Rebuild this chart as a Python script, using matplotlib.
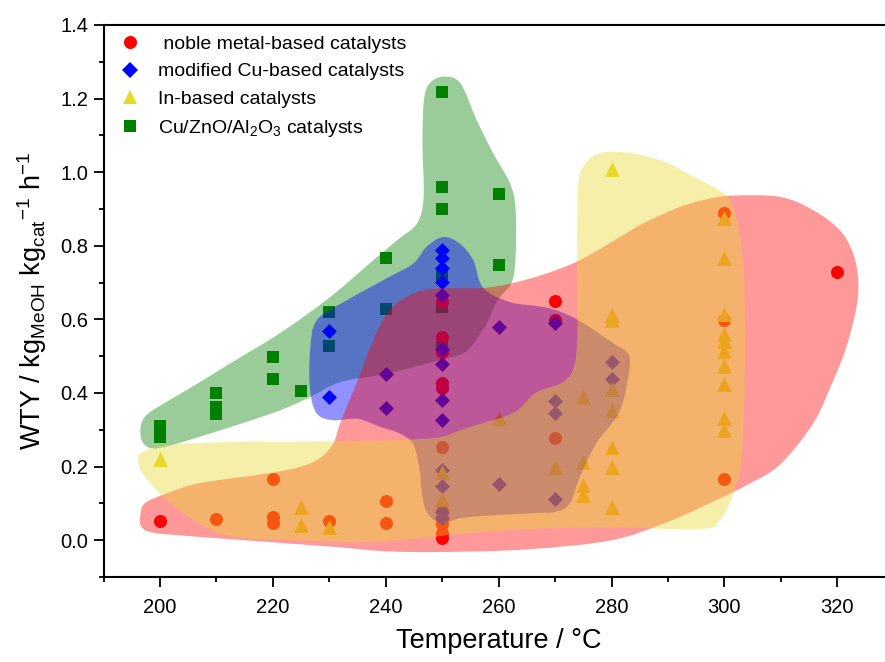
import numpy as np
import matplotlib
matplotlib.use('Agg')  # sin pantalla
import matplotlib.pyplot as plt
from matplotlib.path import Path
from matplotlib.patches import PathPatch
from matplotlib.lines import Line2D
from matplotlib.ticker import MultipleLocator

plt.rcParams['font.family'] = ['Liberation Sans', 'DejaVu Sans']
plt.rcParams['mathtext.fontset'] = 'custom'
plt.rcParams['mathtext.rm'] = 'Liberation Sans'
plt.rcParams['mathtext.it'] = 'Liberation Sans:italic'
plt.rcParams['mathtext.bf'] = 'Liberation Sans:bold'

# --- datos (T en °C, WTY en kg_MeOH kg_cat^-1 h^-1) ---
noble_T = [200, 210, 220, 220, 220, 230, 240, 240,
           250, 250, 250, 250, 250, 250, 250, 250, 250, 250, 250,
           270, 270, 270, 300, 300, 300, 320]
noble_wty = [0.052, 0.057, 0.165, 0.063, 0.047, 0.052, 0.106, 0.047,
             0.648, 0.553, 0.511, 0.426, 0.413, 0.252, 0.08, 0.06, 0.045, 0.02, 0.005,
             0.650, 0.598, 0.279, 0.888, 0.598, 0.166, 0.728]

cu_mod_T = [230, 230, 240, 240,
            250, 250, 250, 250, 250, 250, 250, 250, 250, 250, 250, 250, 250,
            260, 260, 270, 270, 270, 270, 280, 280]
cu_mod_wty = [0.568, 0.388, 0.451, 0.358,
              0.788, 0.766, 0.741, 0.702, 0.666, 0.52, 0.480, 0.381, 0.326, 0.190, 0.147, 0.077, 0.059,
              0.578, 0.154, 0.589, 0.379, 0.347, 0.113, 0.485, 0.437]

in_T = [200, 225, 225, 230, 250, 250, 260, 270,
        275, 275, 275, 275,
        280, 280, 280, 280, 280, 280, 280, 280,
        300, 300, 300, 300, 300, 300, 300, 300, 300, 300]
in_wty = [0.222, 0.091, 0.041, 0.036, 0.186, 0.113, 0.331, 0.199,
          0.390, 0.213, 0.150, 0.122,
          1.010, 0.612, 0.598, 0.412, 0.353, 0.254, 0.199, 0.091,
          0.875, 0.768, 0.616, 0.560, 0.540, 0.515, 0.473, 0.424, 0.333, 0.299]

cza_T = [200, 200, 200, 210, 210, 210, 220, 220, 225, 230, 230, 240, 240,
         250, 250, 250, 250, 250, 250, 260, 260]
cza_wty = [0.310, 0.295, 0.280, 0.399, 0.362, 0.344, 0.498, 0.439, 0.406, 0.619, 0.528, 0.768, 0.628,
           1.219, 0.960, 0.899, 0.720, 0.634, 0.525, 0.940, 0.749]

# contornos de las zonas sombreadas (T, WTY)
green_zone = [(198.5, 0.25), (196.8, 0.27), (196.6, 0.31), (197.6, 0.34), (200.5, 0.37),
              (205.3, 0.413), (212.4, 0.48), (221.3, 0.563), (230.1, 0.66), (237.2, 0.753),
              (242.0, 0.815), (245.5, 0.86), (246.7, 0.93), (246.5, 1.08), (246.8, 1.20),
              (248.0, 1.245), (250.5, 1.26), (253.3, 1.24), (256.1, 1.142), (259.0, 1.052),
              (262.0, 0.97), (263.0, 0.90), (263.0, 0.77), (262.3, 0.70), (259.7, 0.65),
              (257.9, 0.59), (254.4, 0.515), (249.6, 0.49), (240.0, 0.452), (232.0, 0.43),
              (226.6, 0.389), (221.3, 0.353), (212.4, 0.307), (202.0, 0.258)]
blue_zone = [(250.2, 0.824), (253.1, 0.806), (255.5, 0.761), (256.7, 0.70), (258.4, 0.671),
             (262.5, 0.645), (268.5, 0.632), (272.6, 0.61), (276.0, 0.58), (280.3, 0.535),
             (282.8, 0.51), (283.2, 0.47), (281.5, 0.353), (277.3, 0.263), (274.4, 0.172),
             (272.6, 0.10), (270.0, 0.077), (265.5, 0.073), (254.0, 0.062), (250.0, 0.045),
             (247.3, 0.075), (246.4, 0.13), (246.0, 0.19), (244.9, 0.26), (242.5, 0.29),
             (239.0, 0.308), (235.0, 0.33), (230.7, 0.326), (227.8, 0.344), (226.6, 0.408),
             (226.6, 0.516), (227.8, 0.598), (233.1, 0.652), (240.7, 0.716), (244.9, 0.752),
             (247.2, 0.797)]
red_zone = [(196.5, 0.063), (197.3, 0.10), (201.2, 0.127), (207.0, 0.155), (218.9, 0.181),
            (225.0, 0.20), (228.5, 0.225), (230.7, 0.263), (231.9, 0.317), (233.3, 0.37),
            (234.8, 0.426), (236.6, 0.498), (239.0, 0.585), (241.0, 0.63), (243.7, 0.661),
            (247.8, 0.683), (256.7, 0.685), (262.0, 0.697), (268.5, 0.725), (274.4, 0.761),
            (281.5, 0.824), (285.6, 0.861), (291.5, 0.902), (296.2, 0.924), (301.0, 0.936),
            (309.8, 0.933), (315.7, 0.897), (320.4, 0.843), (322.8, 0.78), (323.7, 0.707),
            (323.4, 0.634), (321.6, 0.525), (319.3, 0.435), (315.7, 0.317), (309.8, 0.205),
            (304.0, 0.15), (298.0, 0.105), (290.0, 0.05), (280.0, 0.0), (265.0, -0.025),
            (250.0, -0.032), (240.0, -0.03), (230.7, -0.018), (215.0, 0.0), (207.0, 0.009),
            (199.0, 0.02), (196.8, 0.035)]
yellow_zone = [(196.2, 0.215), (196.6, 0.236), (201.2, 0.258), (213.0, 0.267), (227.0, 0.268),
               (235.0, 0.27), (242.0, 0.272), (249.6, 0.28), (254.3, 0.305), (262.5, 0.345),
               (266.5, 0.40), (271.4, 0.43), (273.5, 0.48), (274.0, 0.60), (273.9, 0.80),
               (274.1, 0.965), (275.0, 1.015), (277.3, 1.048), (281.5, 1.055), (288.6, 1.033),
               (294.5, 0.988), (299.8, 0.943), (301.5, 0.905), (302.7, 0.834), (303.5, 0.70),
               (303.6, 0.45), (303.0, 0.22), (301.8, 0.136), (299.2, 0.054), (295.6, 0.03),
               (280.0, 0.035), (265.0, 0.03), (253.1, 0.018), (248.4, 0.009), (236.6, -0.005),
               (225.0, 0.0), (213.0, 0.009), (207.0, 0.045), (201.2, 0.109), (197.0, 0.18)]

RED = '#FF0000'
BLUE = '#0000FF'
YELLOW = '#E6D92A'
GREEN = '#008000'


def zona_suave(puntos):
    """Contorno cerrado suavizado (Catmull-Rom -> Bezier)"""
    p = np.asarray(puntos, float)
    n = len(p)
    verts = [p[0]]
    codes = [Path.MOVETO]
    for i in range(n):
        p0, p1, p2, p3 = p[i - 1], p[i], p[(i + 1) % n], p[(i + 2) % n]
        verts += [p1 + (p2 - p0) / 6, p2 - (p3 - p1) / 6, p2]
        codes += [Path.CURVE4] * 3
    return Path(verts, codes)


fig = plt.figure(figsize=(8.85, 6.62), dpi=100)
ax = fig.add_axes([103.5 / 885, 85 / 662, 790.3 / 885, 552 / 662])

ax.add_patch(PathPatch(zona_suave(green_zone), facecolor=GREEN, edgecolor='none', alpha=0.4, zorder=1))

ax.scatter(cza_T, cza_wty, marker='s', s=74, color=GREEN, linewidths=0, zorder=2)
ax.scatter(noble_T, noble_wty, marker='o', s=88, color=RED, linewidths=0, zorder=2)
ax.scatter(cu_mod_T, cu_mod_wty, marker='D', s=58, color=BLUE, linewidths=0, zorder=2)
ax.scatter(in_T, in_wty, marker='^', s=115, color=YELLOW, linewidths=0, zorder=2)

ax.add_patch(PathPatch(zona_suave(blue_zone), facecolor=BLUE, edgecolor='none', alpha=0.43, zorder=3))
ax.add_patch(PathPatch(zona_suave(red_zone), facecolor=RED, edgecolor='none', alpha=0.4, zorder=4))
ax.add_patch(PathPatch(zona_suave(yellow_zone), facecolor=YELLOW, edgecolor='none', alpha=0.4, zorder=5))

ax.set_xlim(190, 330)
ax.set_ylim(-0.1, 1.4)
ax.xaxis.set_major_locator(MultipleLocator(20))
ax.xaxis.set_minor_locator(MultipleLocator(10))
ax.yaxis.set_major_locator(MultipleLocator(0.2))
ax.yaxis.set_minor_locator(MultipleLocator(0.1))
for s in ax.spines.values():
    s.set_linewidth(1.5)
    s.set_zorder(10)
ax.tick_params(which='both', direction='out', top=False, right=False, width=1.3)
ax.tick_params(which='major', length=7, labelsize=14.5, pad=4)
ax.tick_params(axis='x', which='major', pad=8)
ax.tick_params(which='minor', length=3.5)

ax.set_xlabel('Temperature / °C', fontsize=19.5, labelpad=8)
ax.set_ylabel(r'WTY / kg$_{\mathregular{MeOH}}$ kg$_{\mathregular{cat}}$$^{\mathregular{-1}}$ h$^{\mathregular{-1}}$',
              fontsize=19.5, labelpad=8)

handles = [
    Line2D([], [], marker='o', color=RED, linestyle='none', markersize=9.4, markeredgewidth=0),
    Line2D([], [], marker='D', color=BLUE, linestyle='none', markersize=7.8, markeredgewidth=0),
    Line2D([], [], marker='^', color=YELLOW, linestyle='none', markersize=10.7, markeredgewidth=0),
    Line2D([], [], marker='s', color=GREEN, linestyle='none', markersize=8.6, markeredgewidth=0),
]
labels = [' noble metal-based catalysts', 'modified Cu-based catalysts', 'In-based catalysts',
          r'Cu/ZnO/Al$_{\mathregular{2}}$O$_{\mathregular{3}}$ catalysts']
leg = ax.legend(handles, labels, loc='upper left', bbox_to_anchor=(0.012, 0.995), frameon=False,
                fontsize=14, handlelength=1.0, handletextpad=0.9, labelspacing=0.5, borderaxespad=0)
leg.set_zorder(20)

fig.savefig('out.png', dpi=100)
